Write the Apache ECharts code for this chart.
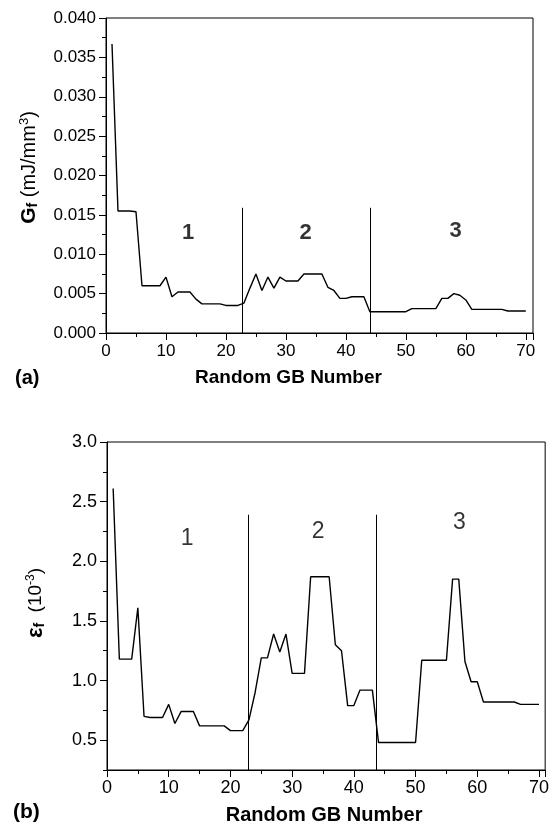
<!DOCTYPE html>
<html>
<head>
<meta charset="utf-8">
<script src="https://cdn.jsdelivr.net/npm/echarts@6/dist/echarts.min.js"></script>
<style>
  html, body { margin: 0; padding: 0; background: #fff; }
  #main { width: 552px; height: 827px; }
</style>
</head>
<body>
<div id="main"></div>
<script>
var FONT = '"Liberation Sans", Arial, sans-serif';

// GB numbers (x) shared by both panels
var gbNumber = [1, 2, 3, 4, 5, 6, 7, 8, 9, 10, 11, 12, 13, 14, 15, 16, 17, 18, 19, 20,
  21, 22, 23, 24, 25, 26, 27, 28, 29, 30, 31, 32, 33, 34, 35, 36, 37, 38, 39, 40,
  41, 42, 43, 44, 45, 46, 47, 48, 49, 50, 51, 52, 53, 54, 55, 56, 57, 58, 59, 60,
  61, 62, 63, 64, 65, 66, 67, 68, 69, 70];

// (a) fracture energy Gf, mJ/mm^3
var gfValues = [0.0367, 0.0155, 0.0155, 0.0155, 0.0154, 0.0060, 0.0060, 0.0060, 0.0060, 0.0071,
  0.0046, 0.0052, 0.0052, 0.0052, 0.0043, 0.0037, 0.0037, 0.0037, 0.0037, 0.0035,
  0.0035, 0.0035, 0.0038, 0.0057, 0.0075, 0.0054, 0.0071, 0.0057, 0.0071, 0.0066,
  0.0066, 0.0066, 0.0075, 0.0075, 0.0075, 0.0075, 0.0058, 0.0054, 0.0044, 0.0044,
  0.0046, 0.0046, 0.0046, 0.0027, 0.0027, 0.0027, 0.0027, 0.0027, 0.0027, 0.0027,
  0.0031, 0.0031, 0.0031, 0.0031, 0.0031, 0.0044, 0.0044, 0.0050, 0.0048, 0.0042,
  0.0030, 0.0030, 0.0030, 0.0030, 0.0030, 0.0030, 0.0028, 0.0028, 0.0028, 0.0028];

// (b) fracture strain, 10^-3
var efValues = [2.61, 1.18, 1.18, 1.18, 1.61, 0.70, 0.69, 0.69, 0.69, 0.80,
  0.64, 0.74, 0.74, 0.74, 0.62, 0.62, 0.62, 0.62, 0.62, 0.58,
  0.58, 0.58, 0.67, 0.90, 1.19, 1.19, 1.39, 1.24, 1.39, 1.06,
  1.06, 1.06, 1.87, 1.87, 1.87, 1.87, 1.30, 1.25, 0.79, 0.79,
  0.92, 0.92, 0.92, 0.48, 0.48, 0.48, 0.48, 0.48, 0.48, 0.48,
  1.17, 1.17, 1.17, 1.17, 1.17, 1.85, 1.85, 1.16, 0.99, 0.99,
  0.82, 0.82, 0.82, 0.82, 0.82, 0.82, 0.80, 0.80, 0.80, 0.80];

// region dividers and region numbers
var dividersA = [22.8, 44.0];
var dividerTopA = 0.0159;
var dividersB = [22.85, 43.6];
var dividerTopB = 2.39;
var regionLabelsA = [[13.7, 0.0127, '1'], [33.3, 0.0127, '2'], [58.3, 0.0129, '3']];
var regionLabelsB = [[13.0, 2.19, '1'], [34.2, 2.245, '2'], [57.1, 2.32, '3']];

var majorB = [0.5, 1.0, 1.5, 2.0, 2.5, 3.0];
var minorB = [0.25, 0.75, 1.25, 1.75, 2.25, 2.75];

function pairs(xs, ys) {
  return xs.map(function (x, i) { return [x, ys[i]]; });
}
function dividerLines(xs, bottom, top) {
  return xs.map(function (x) { return [{ coord: [x, bottom] }, { coord: [x, top] }]; });
}

var black = '#000';
var chartDom = document.getElementById('main');
var myChart = echarts.init(chartDom);

var xBase = {
  type: 'value',
  interval: 10,
  min: 0,
  axisLine: { lineStyle: { color: black, width: 1 } },
  axisTick: { length: 7, lineStyle: { color: black } },
  minorTick: { show: true, splitNumber: 2, length: 4, lineStyle: { color: black } },
  splitLine: { show: false },
  name: 'Random GB Number',
  nameLocation: 'middle'
};

var option = {
  animation: false,
  backgroundColor: '#fff',
  textStyle: { fontFamily: FONT },
  grid: [
    { left: 106, top: 18, right: 19, bottom: 494, show: true, borderColor: black, borderWidth: 1 },
    { left: 107, top: 442, right: 1, bottom: 57, show: true, borderColor: black, borderWidth: 1 }
  ],
  xAxis: [
    Object.assign({}, xBase, {
      gridIndex: 0, max: 71.2, nameGap: 35,
      nameTextStyle: { fontFamily: FONT, fontWeight: 'bold', color: black, fontSize: 19, padding: [0, 62, 0, 0] },
      axisLabel: { color: black, fontSize: 17, fontFamily: FONT, margin: 10,
        formatter: function (v) { return v > 70 ? '' : v; } }
    }),
    Object.assign({}, xBase, {
      gridIndex: 1, max: 71, nameGap: 35,
      nameTextStyle: { fontFamily: FONT, fontWeight: 'bold', color: black, fontSize: 20, padding: [0, 4, 0, 0] },
      axisLabel: { color: black, fontSize: 18, fontFamily: FONT, margin: 9,
        formatter: function (v) { return v > 70 ? '' : v; } }
    })
  ],
  yAxis: [
    {
      type: 'value', gridIndex: 0, min: 0, max: 0.04, interval: 0.005,
      axisLine: { show: true, lineStyle: { color: black, width: 1 } },
      axisTick: { show: true, length: 7, lineStyle: { color: black } },
      minorTick: { show: true, splitNumber: 2, length: 4, lineStyle: { color: black } },
      splitLine: { show: false },
      axisLabel: { color: black, fontSize: 17, fontFamily: FONT, margin: 10,
        formatter: function (v) { return v.toFixed(3); } },
      name: '{g|G}{sub|f}{n| (mJ/mm}{sup|3}{n|)}',
      nameLocation: 'middle', nameRotate: 90, nameGap: 66,
      nameTextStyle: {
        color: black, fontFamily: FONT, padding: [0, 0, 0, 16],
        rich: {
          g: { fontSize: 21, fontWeight: 'bold', color: black, fontFamily: FONT },
          sub: { fontSize: 14, fontWeight: 'bold', color: black, fontFamily: FONT, verticalAlign: 'bottom', padding: [8, 0, 0, 0] },
          n: { fontSize: 20, color: black, fontFamily: FONT },
          sup: { fontSize: 13, color: black, fontFamily: FONT, verticalAlign: 'top', padding: [0, 0, 9, 0] }
        }
      }
    },
    {
      type: 'value', gridIndex: 1, min: 0.25, max: 3.0, interval: 0.25,
      axisLine: { show: true, lineStyle: { color: black, width: 1 } },
      axisTick: { show: true, length: 7, customValues: majorB, lineStyle: { color: black } },
      splitLine: { show: false },
      axisLabel: { color: black, fontSize: 18, fontFamily: FONT, margin: 10, customValues: majorB,
        formatter: function (v) { return v.toFixed(1); } },
      name: '{e|\u03b5}{sub|f}{n|  (10}{sup|-3}{n|)}',
      nameLocation: 'middle', nameRotate: 90, nameGap: 60,
      nameTextStyle: {
        color: black, fontFamily: FONT, padding: [0, 0, 0, 6],
        rich: {
          e: { fontSize: 22, fontWeight: 'bold', color: black, fontFamily: FONT },
          sub: { fontSize: 14, fontWeight: 'bold', color: black, fontFamily: FONT, verticalAlign: 'bottom', padding: [8, 0, 0, 0] },
          n: { fontSize: 19, color: black, fontFamily: FONT },
          sup: { fontSize: 12, color: black, fontFamily: FONT, verticalAlign: 'top', padding: [0, 0, 9, 0] }
        }
      }
    },
    {
      // minor ticks for panel (b)
      type: 'value', gridIndex: 1, min: 0.25, max: 3.0, interval: 0.25, position: 'left',
      axisLine: { show: false },
      axisTick: { show: true, length: 4, customValues: minorB, lineStyle: { color: black } },
      axisLabel: { show: false },
      splitLine: { show: false }
    }
  ],
  series: [
    {
      type: 'line', xAxisIndex: 0, yAxisIndex: 0,
      data: pairs(gbNumber, gfValues),
      showSymbol: false, symbol: 'none',
      lineStyle: { color: black, width: 1.4 },
      markLine: {
        silent: true, symbol: 'none', label: { show: false },
        lineStyle: { color: black, width: 1, type: 'solid' },
        data: dividerLines(dividersA, 0, dividerTopA)
      }
    },
    {
      type: 'scatter', xAxisIndex: 0, yAxisIndex: 0,
      data: regionLabelsA, symbolSize: 0,
      label: { show: true, position: 'inside', color: black, fontSize: 22, fontWeight: 'bold', fontFamily: FONT,
        formatter: function (p) { return p.value[2]; } }
    },
    {
      type: 'line', xAxisIndex: 1, yAxisIndex: 1,
      data: pairs(gbNumber, efValues),
      showSymbol: false, symbol: 'none',
      lineStyle: { color: black, width: 1.4 },
      markLine: {
        silent: true, symbol: 'none', label: { show: false },
        lineStyle: { color: black, width: 1, type: 'solid' },
        data: dividerLines(dividersB, 0.25, dividerTopB)
      }
    },
    {
      type: 'scatter', xAxisIndex: 1, yAxisIndex: 1,
      data: regionLabelsB, symbolSize: 0,
      label: { show: true, position: 'inside', color: black, fontSize: 23, fontFamily: FONT,
        formatter: function (p) { return p.value[2]; } }
    }
  ],
  graphic: [
    { type: 'text', left: 15, top: 368, style: { text: '(a)', font: 'bold 20px ' + FONT, fill: black } },
    { type: 'text', left: 13, top: 802, style: { text: '(b)', font: 'bold 21px ' + FONT, fill: black } }
  ]
};

myChart.setOption(option);
</script>
</body>
</html>
